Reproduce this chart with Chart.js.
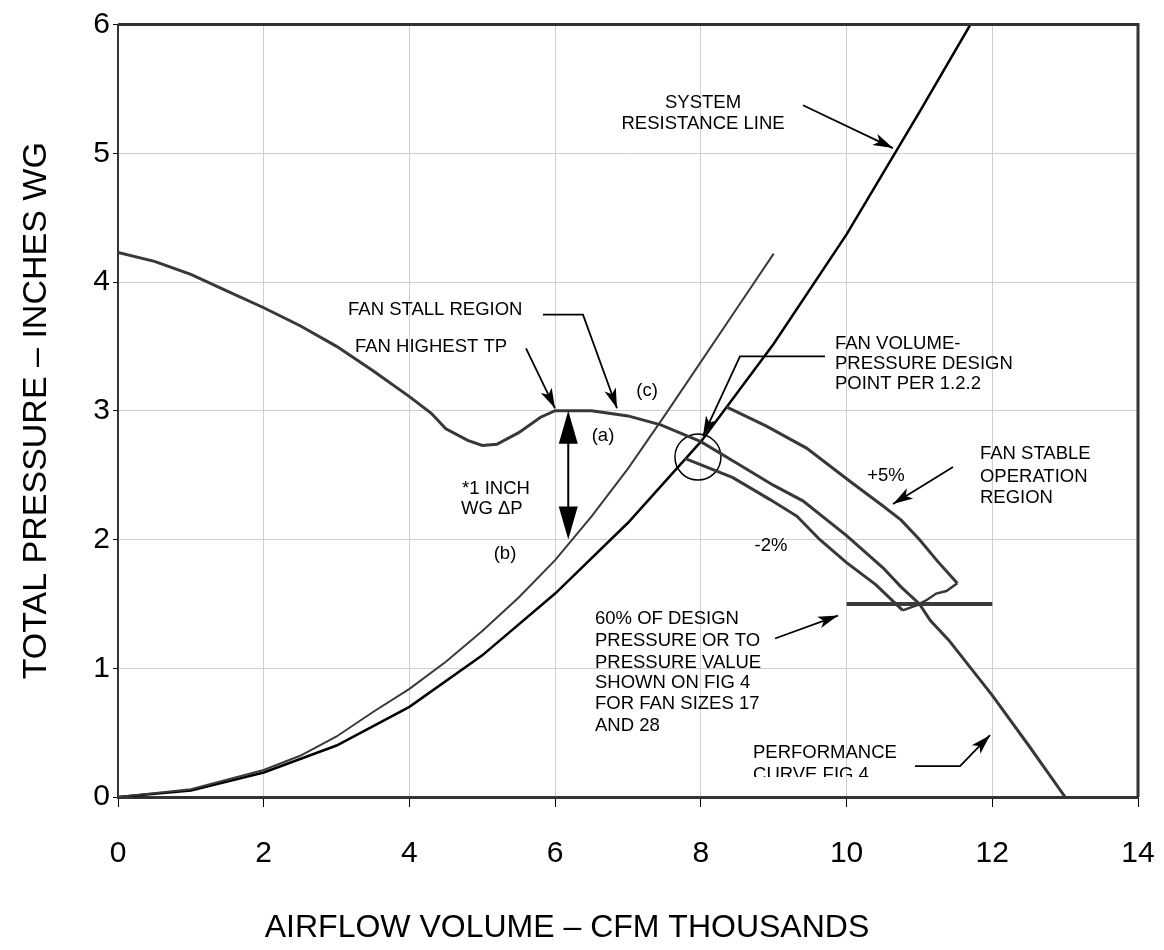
<!DOCTYPE html>
<html><head><meta charset="utf-8">
<script src="https://cdn.jsdelivr.net/npm/chart.js@4.4.1/dist/chart.umd.min.js"></script>
<style>html,body{margin:0;padding:0;background:#fff}#wrap{width:1164px;height:950px;position:relative}</style>
</head><body><div id="wrap"><canvas id="c"></canvas></div>
<script>
// ---- data ----
const xTickValues = [0,2,4,6,8,10,12,14];
const yTickValues = [0,1,2,3,4,5,6];
const fanX = [0,0.5,1,1.5,2,2.5,3,3.5,4,4.3,4.5,4.8,5.0,5.2,5.5,5.8,6.0,6.5,7.0,7.45,8.0,8.5,9.0,9.4,10.0,10.5,10.75,11.0,11.15,11.4,12,12.5,13];
const fanY = [4.23,4.16,4.06,3.93,3.80,3.66,3.50,3.31,3.11,2.98,2.86,2.77,2.73,2.74,2.83,2.95,3.0,3.0,2.96,2.89,2.76,2.59,2.42,2.30,2.03,1.78,1.63,1.50,1.37,1.22,0.79,0.40,0];
const sysX = [0,1,2,3,4,5,6,7,8,9,10,11,11.7];
const sysY = [0,0.05,0.19,0.40,0.70,1.10,1.58,2.13,2.76,3.52,4.37,5.32,6.0];
const bcX = [0,1,2,2.5,3,3.5,4,4.5,5,5.5,6,6.5,7,7.5,8,8.5,9];
const bcY = [0,0.06,0.21,0.32,0.47,0.66,0.84,1.05,1.29,1.55,1.84,2.18,2.55,2.96,3.38,3.80,4.22];
const plusX = [8.35,8.9,9.45,10.05,10.5,10.75,11.0,11.25,11.52];
const plusY = [3.03,2.88,2.71,2.45,2.26,2.15,2.0,1.83,1.66];
const edgeX = [11.52,11.37,11.23,11.1,10.97,10.77];
const edgeY = [1.66,1.60,1.58,1.53,1.49,1.45];
const minusX = [7.78,8.44,8.95,9.32,9.63,10.0,10.4,10.77];
const minusY = [2.63,2.48,2.31,2.18,2.0,1.82,1.65,1.45];
const minPressX = [10,12];
const minPressY = [1.5,1.5];
const designX = [7.96];
const designY = [2.64];
const deltaPX = [6.18,6.18];
const deltaPY = [3.0,2.0];

const pts = (xs, ys) => xs.map((x,i)=>({x, y: ys[i]}));
const FONT = '"Liberation Sans", Arial, Helvetica, sans-serif';

// annotation layout (data coordinates)
const labels = [
  {t:'SYSTEM', x:8.03, y:5.39, a:'center'},
  {t:'RESISTANCE LINE', x:8.03, y:5.225, a:'center'},
  {t:'FAN STALL REGION', x:3.157, y:3.786, a:'left'},
  {t:'FAN HIGHEST TP', x:3.253, y:3.499, a:'left'},
  {t:'FAN VOLUME-', x:9.841, y:3.523, a:'left'},
  {t:'PRESSURE DESIGN', x:9.841, y:3.360, a:'left'},
  {t:'POINT PER 1.2.2', x:9.841, y:3.205, a:'left'},
  {t:'(c)', x:7.261, y:3.151, a:'center'},
  {t:'(a)', x:6.657, y:2.803, a:'center'},
  {t:'(b)', x:5.312, y:1.889, a:'center'},
  {t:'*1 INCH', x:4.722, y:2.392, a:'left'},
  {t:'WG \u0394P', x:4.708, y:2.237, a:'left'},
  {t:'+5%', x:10.541, y:2.493, a:'center'},
  {t:'FAN STABLE', x:11.831, y:2.663, a:'left'},
  {t:'OPERATION', x:11.831, y:2.485, a:'left'},
  {t:'REGION', x:11.831, y:2.323, a:'left'},
  {t:'-2%', x:8.963, y:1.951, a:'center'},
  {t:'60% OF DESIGN', x:6.547, y:1.386, a:'left'},
  {t:'PRESSURE OR TO', x:6.547, y:1.215, a:'left'},
  {t:'PRESSURE VALUE', x:6.547, y:1.045, a:'left'},
  {t:'SHOWN ON FIG 4', x:6.547, y:0.883, a:'left'},
  {t:'FOR FAN SIZES 17', x:6.547, y:0.72, a:'left'},
  {t:'AND 28', x:6.547, y:0.55, a:'left'},
  {t:'PERFORMANCE', x:8.716, y:0.341, a:'left'},
  {t:'CURVE FIG 4', x:8.716, y:0.170, a:'left', clipY:0.155}
];
const arrows = [
  [[9.402,5.373],[10.637,5.040]],
  [[5.833,3.747],[6.382,3.747],[6.849,3.019]],
  [[5.600,3.484],[5.998,3.019]],
  [[9.704,3.422],[8.537,3.422],[8.029,2.803]],
  [[11.461,2.563],[10.637,2.276]],
  [[9.018,1.231],[9.882,1.409]],
  [[10.939,0.240],[11.557,0.240],[11.969,0.480]]
];

function arrowHead(ctx, x0, y0, x1, y1, len, hw, notch) {
  const ang = Math.atan2(y1-y0, x1-x0);
  const c = Math.cos(ang), s = Math.sin(ang);
  const bx = x1 - c*len, by = y1 - s*len;
  ctx.beginPath();
  ctx.moveTo(x1, y1);
  ctx.lineTo(bx - s*hw, by + c*hw);
  ctx.lineTo(x1 - c*(len-notch), y1 - s*(len-notch));
  ctx.lineTo(bx + s*hw, by - c*hw);
  ctx.closePath();
  ctx.fill();
}

const annot = {
  id: 'annot',
  afterDatasetsDraw(chart) {
    const {ctx, scales:{x, y}, chartArea:ca} = chart;
    const X = v => x.getPixelForValue(v), Y = v => y.getPixelForValue(v);
    ctx.save();
    ctx.strokeStyle = '#333'; ctx.lineWidth = 3;
    ctx.beginPath();
    ctx.moveTo(ca.left, ca.top); ctx.lineTo(ca.right, ca.top); ctx.lineTo(ca.right, ca.bottom);
    ctx.stroke();
    ctx.strokeStyle = '#000'; ctx.fillStyle = '#000'; ctx.lineWidth = 1.8;
    arrows.forEach(p => {
      ctx.beginPath();
      p.forEach((q,i)=> i ? ctx.lineTo(X(q[0]), Y(q[1])) : ctx.moveTo(X(q[0]), Y(q[1])));
      ctx.stroke();
      const a = p[p.length-2], b = p[p.length-1];
      arrowHead(ctx, X(a[0]), Y(a[1]), X(b[0]), Y(b[1]), 20, 6, 5);
    });
    const dx = X(deltaPX[0]), dy0 = Y(deltaPY[0]), dy1 = Y(deltaPY[1]);
    ctx.lineWidth = 2;
    ctx.beginPath(); ctx.moveTo(dx, dy0+20); ctx.lineTo(dx, dy1-20); ctx.stroke();
    arrowHead(ctx, dx, dy1, dx, dy0, 33, 9.5, 0);
    arrowHead(ctx, dx, dy0, dx, dy1, 33, 9.5, 0);
    ctx.font = '18.5px ' + FONT;
    ctx.textBaseline = 'middle';
    ctx.fillStyle = '#000';
    labels.forEach(l => {
      ctx.save();
      if (l.clipY !== undefined) {
        ctx.beginPath(); ctx.rect(0, 0, chart.width, Y(l.clipY)); ctx.clip();
      }
      ctx.textAlign = l.a;
      ctx.fillText(l.t, X(l.x), Y(l.y));
      ctx.restore();
    });
    ctx.font = '32px ' + FONT;
    ctx.textAlign = 'center';
    ctx.fillText('AIRFLOW VOLUME \u2013 CFM THOUSANDS', 567, 928);
    ctx.restore();
  }
};

const line = (data, color, width, label) => ({
  label, data, borderColor: color, borderWidth: width, showLine: true,
  pointRadius: 0, pointHoverRadius: 0, tension: 0, fill: false
});

new Chart(document.getElementById('c'), {
  type: 'scatter',
  data: {
    datasets: [
      line(pts(bcX, bcY), '#3a3a3a', 2, 'curve (b)-(c)'),
      line(pts(fanX, fanY), '#383838', 3, 'fan performance'),
      line(pts(plusX, plusY), '#383838', 3, '+5%'),
      line(pts(edgeX, edgeY), '#383838', 2.5, 'edge'),
      line(pts(minusX, minusY), '#383838', 3, '-2%'),
      line(pts(minPressX, minPressY), '#3a3a3a', 4, '60% design pressure'),
      line(pts(sysX, sysY), '#000', 2.5, 'system resistance'),
      {label:'design point', data: pts(designX, designY), pointRadius: 23, pointHoverRadius: 23,
       pointBorderWidth: 1.5, pointBorderColor: '#000', pointBackgroundColor: 'rgba(0,0,0,0)', showLine:false}
    ]
  },
  options: {
    responsive: true, maintainAspectRatio: false, animation: false, devicePixelRatio: 1,
    layout: {padding: {top: 22, right: 0, left: 0, bottom: 0}},
    plugins: {legend: {display: false}, tooltip: {enabled: false}},
    events: [],
    scales: {
      x: {
        type: 'linear', min: 0, max: 14,
        afterFit: s => { s.height = 153; s.paddingLeft = 0; s.paddingRight = 26; },
        afterBuildTicks: s => { s.ticks = xTickValues.map(v => ({value: v})); },
        ticks: {color: '#000', padding: 29, font: {family: FONT, size: 30}},
        grid: {color: '#cfcfcf', lineWidth: 1, tickLength: 10, tickColor: '#000', tickWidth: 1},
        border: {color: '#333', width: 3}
      },
      y: {
        type: 'linear', min: 0, max: 6,
        afterFit: s => { s.width = 118; },
        afterBuildTicks: s => { s.ticks = yTickValues.map(v => ({value: v})); },
        ticks: {color: '#000', padding: 3, font: {family: FONT, size: 30}},
        grid: {color: '#cfcfcf', lineWidth: 1, tickLength: 5, tickColor: '#000', tickWidth: 1},
        border: {color: '#333', width: 2},
        title: {display: true, text: 'TOTAL PRESSURE \u2013 INCHES WG', color: '#000',
                font: {family: FONT, size: 34}, padding: {top: 16, bottom: 0}}
      }
    }
  },
  plugins: [annot]
});
</script>
</body></html>
